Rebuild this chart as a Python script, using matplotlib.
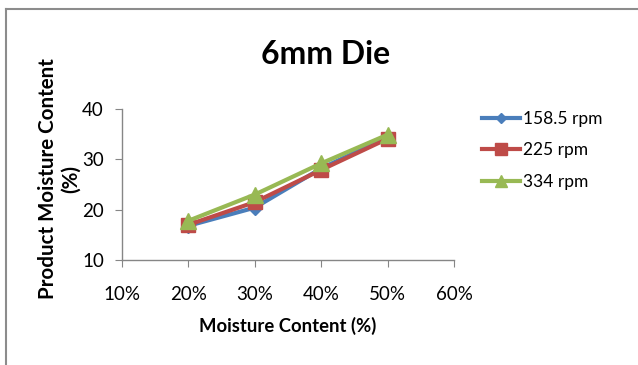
import matplotlib
matplotlib.use("Agg")
import matplotlib.pyplot as plt
from matplotlib.lines import Line2D

plt.rcParams["font.family"] = ["Lato", "DejaVu Sans"]

moisture = [0.2, 0.3, 0.4, 0.5]
rpm_158 = [16.8, 20.4, 28.2, 34.4]
rpm_225 = [17.0, 21.5, 27.9, 34.1]
rpm_334 = [17.8, 23.0, 29.2, 34.9]
series_labels = ["158.5 rpm", "225 rpm", "334 rpm"]
x_ticks = [0.1, 0.2, 0.3, 0.4, 0.5, 0.6]
y_ticks = [10, 20, 30, 40]

colors = ["#4A7EBB", "#BE4B48", "#98B954"]
markers = ["D", "s", "^"]
msizes = [7, 10, 11]

fig = plt.figure(figsize=(6.38, 3.65), dpi=100)
W, H = 638, 365
ax = fig.add_axes([122 / W, 1 - 260 / H, (454 - 122) / W, (260 - 109) / H])

for ys, c, m, ms, lab in zip([rpm_158, rpm_225, rpm_334], colors, markers, msizes, series_labels):
    ax.plot(moisture, ys, color=c, lw=3, marker=m, markersize=ms, label=lab)

ax.set_xlim(0.1, 0.6)
ax.set_ylim(10, 40)
ax.set_xticks(x_ticks)
ax.set_xticklabels([f"{int(round(v * 100))}%" for v in x_ticks])
ax.set_yticks(y_ticks)
for s in ["top", "right"]:
    ax.spines[s].set_visible(False)
for s in ["left", "bottom"]:
    ax.spines[s].set_color("#868686")
    ax.spines[s].set_linewidth(1)
ax.tick_params(axis="both", direction="out", length=5, color="#868686",
               labelsize=13.5, pad=8)
ax.tick_params(axis="x", pad=14)

fig.text(326 / W, 1 - 55 / H, "6mm Die", fontsize=23, fontweight="bold",
         ha="center", va="center")
fig.text(288 / W, 1 - 326 / H, "Moisture Content (%)", fontsize=13.3,
         fontweight="bold", ha="center", va="center")
fig.text(48 / W, 1 - 179 / H, "Product Moisture Content", fontsize=14.8,
         fontweight="bold", rotation=90, ha="center", va="center")
fig.text(71 / W, 1 - 179 / H, "(%)", fontsize=14.8, fontweight="bold",
         rotation=90, ha="center", va="center")

handles = [Line2D([], [], color=c, lw=3, marker=m, markersize=ms * 0.8)
           for c, m, ms in zip(colors, markers, msizes)]
fig.legend(handles, series_labels, loc="upper left", bbox_to_anchor=(466 / W, 1 - 95 / H),
           frameon=False, fontsize=12.5, handlelength=2.2, labelspacing=0.9,
           handletextpad=0.2)

# chart frame (only left and top edges show)
fig.add_artist(Line2D([6 / W, 6 / W], [0, 1 - 9 / H], color="#8c8c8c", lw=1.5,
                      transform=fig.transFigure))
fig.add_artist(Line2D([6 / W, 1], [1 - 9 / H, 1 - 9 / H], color="#8c8c8c", lw=1.5,
                      transform=fig.transFigure))

fig.savefig("out.png", dpi=100)
